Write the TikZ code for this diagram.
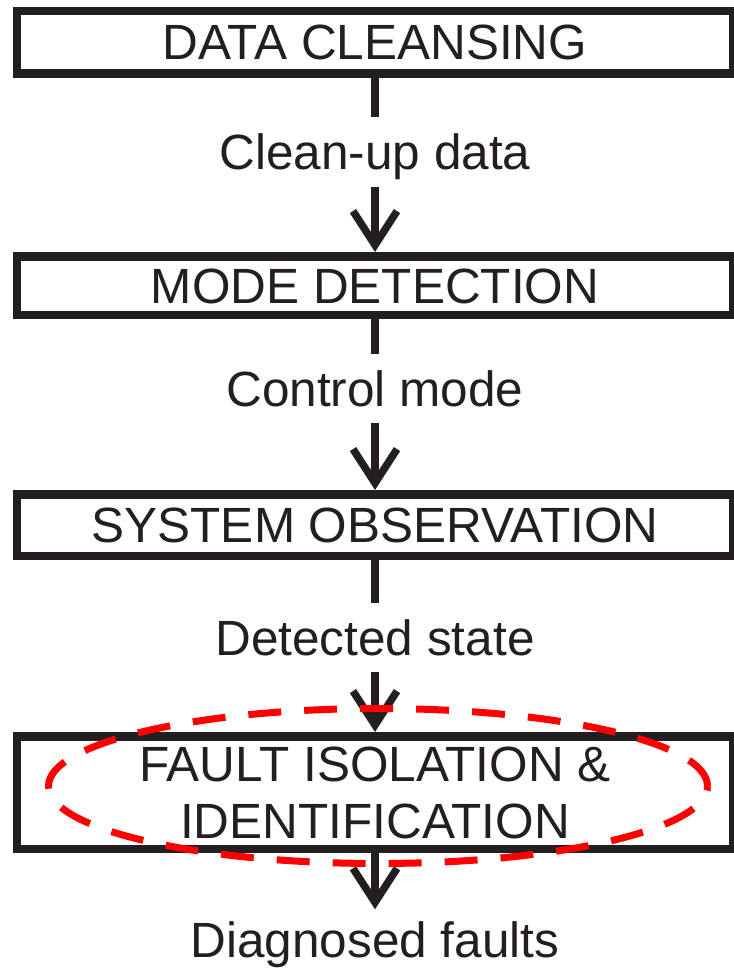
\documentclass[tikz,border=0pt]{standalone}
\usepackage{fontspec}
\setmainfont{Liberation Sans}
\usetikzlibrary{arrows.meta,shapes.geometric}
\definecolor{ink}{RGB}{35,31,32}
\definecolor{hlred}{RGB}{255,0,0}
\begin{document}
\begin{tikzpicture}[x=1pt,y=-1pt,
  stepbox/.style={draw=ink, line width=8.5pt, text=ink, minimum width=716pt,
    inner sep=0pt, font=\fontsize{49.5}{57}\selectfont, align=center},
  onebox/.style={text height=35pt, text depth=0pt},
  flowlabel/.style={text=ink, inner xsep=0pt, inner ysep=17pt, text height=35pt,
    text depth=0pt, font=\fontsize{49.5}{57}\selectfont},
  conn/.style={draw=ink, line width=7.5pt},
  arr/.style={conn, -{Straight Barb[length=34pt,width=44pt,sharp]}},
  hl/.style={draw=hlred, line width=7pt, dash pattern=on 33pt off 23pt,
    ellipse, inner sep=0pt}
]
\useasboundingbox (0,0) rectangle (733,968);
\fill[white] (0,0) rectangle (733,968);

\node[stepbox, onebox, minimum height=62.5pt] (b1) at (375,42.5) {DATA CLEANSING};
\node[flowlabel] (l1) at (375,152) {Clean-up data};
\node[stepbox, onebox, minimum height=58.5pt] (b2) at (375,285.5) {MODE DETECTION};
\node[flowlabel] (l2) at (375,388.5) {Control mode};
\node[stepbox, onebox, minimum height=61.5pt] (b3) at (375,525) {SYSTEM OBSERVATION};
\node[flowlabel] (l3) at (375,637.5) {Detected state};
\node[stepbox, minimum height=112.5pt] (b4) at (375,792.5) {FAULT ISOLATION \&\\IDENTIFICATION};
\node[flowlabel, inner ysep=13pt] (l4) at (375,940) {Diagnosed faults};

\draw[conn, shorten <=-2pt] (b1.south) -- (l1.north);
\draw[arr] (l1.south) -- (b2.north);
\draw[conn, shorten <=-2pt] (b2.south) -- (l2.north);
\draw[arr] (l2.south) -- (b3.north);
\draw[conn, shorten <=-2pt] (b3.south) -- (l3.north);
\draw[arr] (l3.south) -- (b4.north);
\draw[arr] (b4.south) -- (l4.north);

\node[hl, minimum width=659pt, minimum height=155pt] (ring) at (378,786) {};
\end{tikzpicture}
\end{document}
